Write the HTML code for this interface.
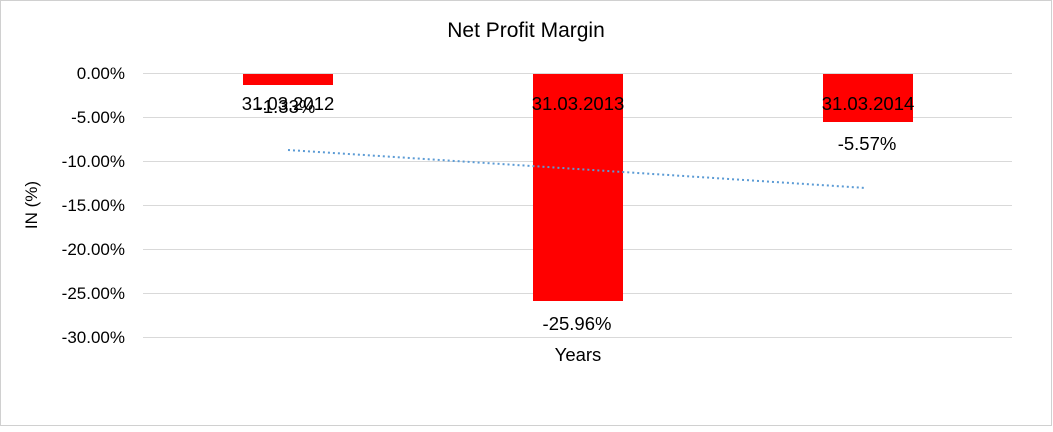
<!DOCTYPE html>
<html><head><style>
body{margin:0;background:#fff;}
svg text{font-family:"Liberation Sans",Arial,sans-serif;fill:#000;}
</style></head><body>
<svg width="1053" height="427" xmlns="http://www.w3.org/2000/svg">
<rect x="0.5" y="0.5" width="1051" height="425" fill="#fff" stroke="#d0d0d0"/>
<text x="526" y="37" font-size="21" text-anchor="middle">Net Profit Margin</text>
<g stroke="#d9d9d9" stroke-width="1">
<line x1="143" x2="1012" y1="73.5" y2="73.5"/>
<line x1="143" x2="1012" y1="117.5" y2="117.5"/>
<line x1="143" x2="1012" y1="161.5" y2="161.5"/>
<line x1="143" x2="1012" y1="205.5" y2="205.5"/>
<line x1="143" x2="1012" y1="249.5" y2="249.5"/>
<line x1="143" x2="1012" y1="293.5" y2="293.5"/>
<line x1="143" x2="1012" y1="337.5" y2="337.5"/>
</g>
<g font-size="17" text-anchor="end">
<text x="125" y="79">0.00%</text>
<text x="125" y="123">-5.00%</text>
<text x="125" y="167">-10.00%</text>
<text x="125" y="211">-15.00%</text>
<text x="125" y="255">-20.00%</text>
<text x="125" y="299">-25.00%</text>
<text x="125" y="343">-30.00%</text>
</g>
<text x="37" y="205" font-size="17" text-anchor="middle" transform="rotate(-90 37 205)">IN (%)</text>
<rect x="243" y="74" width="90" height="11" fill="#ff0000"/>
<rect x="533" y="74" width="90" height="227" fill="#ff0000"/>
<rect x="823" y="74" width="90" height="48" fill="#ff0000"/>
<line x1="288" y1="150" x2="866" y2="188" stroke="#5b9bd5" stroke-width="2" stroke-dasharray="2,3"/>
<g font-size="18.5" text-anchor="middle">
<text x="288" y="110">31.03.2012</text>
<text x="578" y="110">31.03.2013</text>
<text x="868" y="110">31.03.2014</text>
<text x="286" y="113">-1.33%</text>
<text x="577" y="330">-25.96%</text>
<text x="867" y="150">-5.57%</text>
<text x="578" y="361">Years</text>
</g>
</svg>
</body></html>
